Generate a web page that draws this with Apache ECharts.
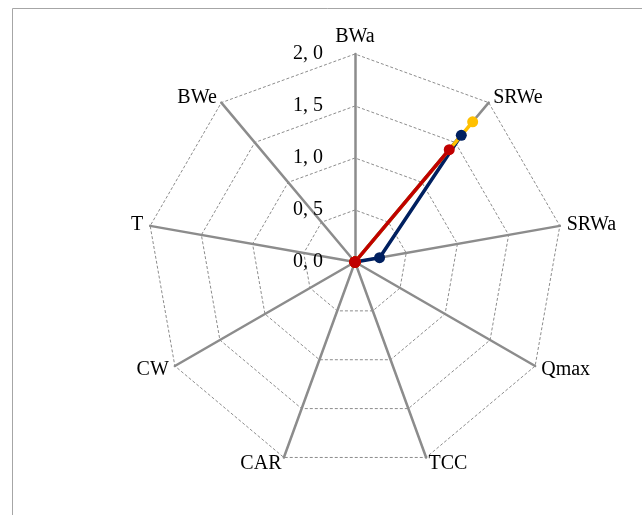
<!DOCTYPE html>
<html>
<head>
<meta charset="utf-8">
<script src="https://cdn.jsdelivr.net/npm/echarts@6/dist/echarts.min.js"></script>
<style>
  html, body { margin: 0; padding: 0; background: #fff; }
  #radar { width: 642px; height: 515px; }
</style>
</head>
<body>
<div id="radar"></div>
<script>
// indicators, clockwise from the top
const indicators = ['BWa', 'SRWe', 'SRWa', 'Qmax', 'TCC', 'CAR', 'CW', 'T', 'BWe']
const axisMax = 2.0
const tickStep = 0.5
// three series (same order as indicators)
const seriesNavy = [0, 1.59, 0.24, 0, 0, 0, 0, 0, 0]
const seriesYellow = [0, 1.76, 0, 0, 0, 0, 0, 0, 0]
const seriesRed = [0, 1.41, 0, 0, 0, 0, 0, 0, 0]

const colors = ['#002060', '#ffc000', '#c00000']

// echarts lays radar axes out counter-clockwise, so keep the first one and flip the rest
const flip = arr => [arr[0]].concat(arr.slice(1).reverse())

const option = {
  animation: false,
  graphic: [{
    type: 'rect',
    shape: { x: 12.5, y: 8.5, width: 700, height: 600 },
    style: { fill: 'none', stroke: '#a6a6a6', lineWidth: 1 },
    silent: true
  }],
  // polar only used for the tick labels on the top axis
  polar: {
    center: [355, 262],
    radius: 208
  },
  angleAxis: {
    show: false,
    startAngle: 90,
    min: 0,
    max: 360
  },
  radiusAxis: {
    min: 0,
    max: axisMax,
    interval: tickStep,
    axisLine: { show: false },
    axisTick: { show: false },
    splitLine: { show: false },
    axisLabel: {
      color: '#000',
      fontFamily: 'Liberation Serif',
      fontSize: 20,
      margin: 32,
      formatter: v => v.toFixed(1).replace('.', ', ')
    }
  },
  radar: {
    center: [355, 262],
    radius: 208,
    startAngle: 90,
    splitNumber: 4,
    shape: 'polygon',
    indicator: flip(indicators).map(name => ({ name: name, min: 0, max: axisMax })),
    axisName: {
      color: '#000',
      fontFamily: 'Liberation Serif',
      fontSize: 20
    },
    nameGap: 7,
    axisLine: {
      lineStyle: { color: '#8c8c8c', width: 2.5 }
    },
    splitLine: {
      lineStyle: { color: '#8c8c8c', width: 1, type: [3, 2] }
    },
    splitArea: { show: false },
    axisTick: { show: false },
    axisLabel: { show: false }
  },
  series: [{
    type: 'radar',
    z: 2,
    symbol: 'circle',
    symbolSize: 11,
    data: [
      {
        value: flip(seriesNavy),
        lineStyle: { color: colors[0], width: 3.5 },
        itemStyle: { color: colors[0] }
      },
      {
        value: flip(seriesYellow),
        lineStyle: { color: colors[1], width: 3.5 },
        itemStyle: { color: colors[1] }
      },
      {
        value: flip(seriesRed),
        lineStyle: { color: colors[2], width: 3.5 },
        itemStyle: { color: colors[2] }
      }
    ]
  }]
}

const myChart = echarts.init(document.getElementById('radar'))
myChart.setOption(option)
</script>
</body>
</html>
